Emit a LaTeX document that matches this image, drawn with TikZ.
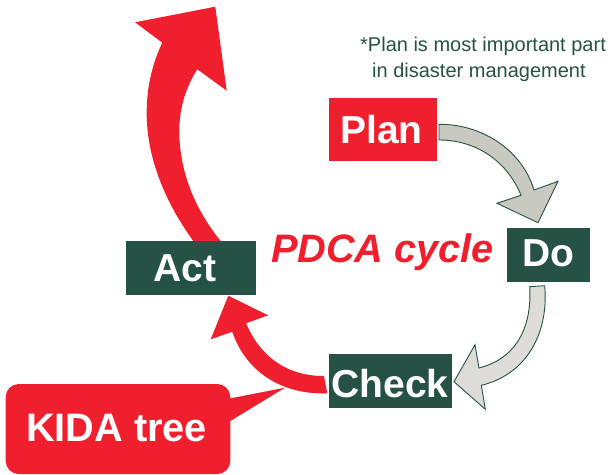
\documentclass[tikz,border=0pt]{standalone}
\usepackage{fontspec}
\setmainfont{Liberation Sans}
\definecolor{kred}{HTML}{F01F2D}
\definecolor{kgreen}{HTML}{255244}
\definecolor{kgrey}{HTML}{C8CAC2}
\definecolor{klight}{HTML}{DDDCD7}
\tikzset{
  box/.style={anchor=center,inner sep=0pt,text=white,font=\bfseries\fontsize{39}{42}\selectfont},
  redarrow/.style={fill=kred,draw=none},
  greyarrow/.style={draw=kgreen,line width=0.9pt,line join=miter},
  note/.style={anchor=west,inner sep=0pt,text=kgreen,font=\fontsize{20}{23}\selectfont},
}
\begin{document}
\begin{tikzpicture}[x=1pt,y=-1pt]
\useasboundingbox (0,0) rectangle (610,474);
% Big red arrow from Act
\fill[redarrow] (193.3,241) .. controls (160,195) and (146,150) .. (146.7,110)
  .. controls (147,85) and (153,62) .. (162.3,42.7) -- (135,22.3) -- (215.3,6.7) -- (226.7,90.7) -- (197.3,69.3)
  .. controls (184,90) and (179,112) .. (179.3,133.3)
  .. controls (180,175) and (197,212) .. (220.7,241) -- cycle;
% Plan -> Do
\filldraw[greyarrow,fill=kgrey] (439,124.3) .. controls (482,124) and (522,150) .. (534,190)
  -- (558,181.3) -- (538,222.7) -- (497,203.3) -- (521,195.3)
  .. controls (508,163) and (478,140) .. (439,140) -- cycle;
% Do -> Check
\filldraw[greyarrow,fill=klight] (529.7,286.7) .. controls (532,325) and (518,358) .. (479,368)
  -- (475,344.7) -- (454,381.7) -- (485.3,409.3) -- (481.3,385.3)
  .. controls (525,375) and (549,335) .. (544.7,285.7) -- cycle;
% Check -> Act
\fill[redarrow] (324,376) .. controls (290,376) and (262,360) .. (246,323.3)
  -- (268,315.3) -- (228.3,295.7) -- (210.7,339.3) -- (232.3,331.7)
  .. controls (245,370) and (280,395) .. (327.3,393.3) -- cycle;
% Callout
\fill[kred,rounded corners=13pt] (5.7,384) rectangle (230.3,474);
\fill[kred] (229,398.6) -- (285,387.7) -- (229,421.8) -- cycle;
\node[box,font=\bfseries\fontsize{39.7}{42}\selectfont] (kida) at (116.5,428) {KIDA tree};
% Boxes
\fill[kred] (329,97.7) rectangle (437.3,161.3);
\node[box] (plan) at (381.5,130) {Plan};
\fill[kgreen] (507,228) rectangle (590,282);
\node[box] (do) at (548,253.5) {Do};
\fill[kgreen] (329,354) rectangle (452,408);
\node[box] (check) at (390,383.5) {Check};
\fill[kgreen] (126,241) rectangle (256,295);
\node[box] (act) at (185,268) {Act};
% Texts
\node[box,text=kred,font=\bfseries\itshape\fontsize{39.7}{42}\selectfont] (pdca) at (382.5,252.5) {PDCA cycle};
\node[note] (n1) at (360,46.5) {*Plan is most important part};
\node[note] (n2) at (372,72.5) {in disaster management};
\end{tikzpicture}
\end{document}
